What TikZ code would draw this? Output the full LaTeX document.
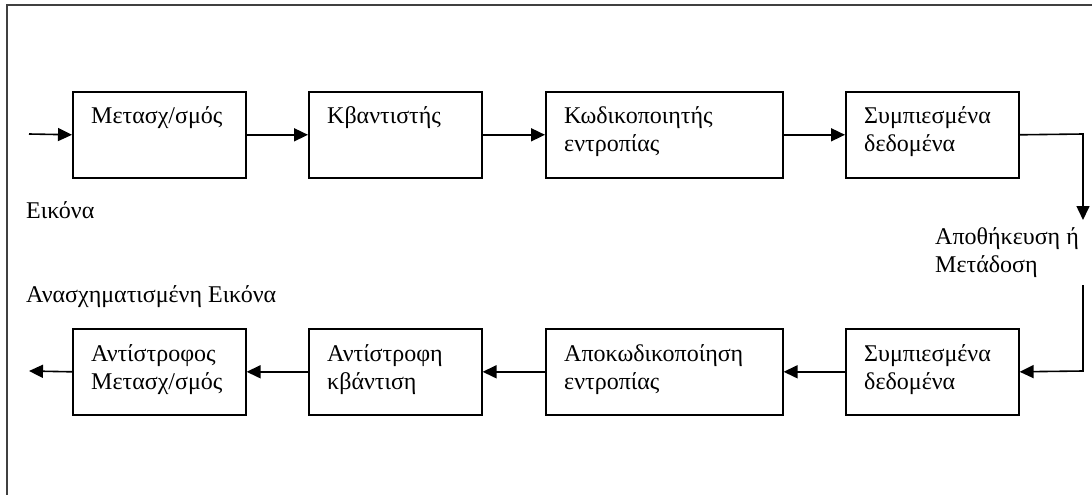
\documentclass[tikz,border=0pt]{standalone}
\usepackage{fontspec}
\setmainfont{Liberation Serif}
\usetikzlibrary{arrows.meta}
\begin{document}
\begin{tikzpicture}[x=1pt,y=-1pt,
  blockbox/.style={draw=black,line width=1.6pt,rectangle,inner sep=0pt,minimum height=86pt,anchor=north west},
  txt/.style={font=\fontsize{24}{28}\selectfont,inner sep=0pt,align=left,anchor=base west},
  conn/.style={line width=1.6pt,-{Triangle[length=14pt,width=13pt]}}]
\useasboundingbox (0,0) rectangle (1092,495);
\fill[white] (0,0) rectangle (1092,495);
\draw[line width=1.2pt,black!75] (7,500) -- (7,5) -- (1100,5);
% top row
\node[blockbox,minimum width=173pt] (b1) at (72,91) {};
\node[blockbox,minimum width=173pt] (b2) at (308,91) {};
\node[blockbox,minimum width=237pt] (b3) at (545,91) {};
\node[blockbox,minimum width=173pt] (b4) at (845,91) {};
% bottom row
\node[blockbox,minimum width=173pt] (c1) at (72,328) {};
\node[blockbox,minimum width=173pt] (c2) at (308,328) {};
\node[blockbox,minimum width=237pt] (c3) at (545,328) {};
\node[blockbox,minimum width=173pt] (c4) at (845,328) {};
% box texts (base anchor = baseline of last line)
\node[txt] (t1) at ([shift={(19,32)}]b1.north west) {Μετασχ/σμός};
\node[txt] (t2) at ([shift={(19,32)}]b2.north west) {Κβαντιστής};
\node[txt] (t3) at ([shift={(19,60)}]b3.north west) {Κωδικοποιητής\\εντροπίας};
\node[txt] (t4) at ([shift={(19,60)}]b4.north west) {Συμπιεσμένα\\δεδομένα};
\node[txt] (u1) at ([shift={(19,61)}]c1.north west) {Αντίστροφος\\Μετασχ/σμός};
\node[txt] (u2) at ([shift={(19,61)}]c2.north west) {Αντίστροφη\\κβάντιση};
\node[txt] (u3) at ([shift={(19,61)}]c3.north west) {Αποκωδικοποίηση\\εντροπίας};
\node[txt] (u4) at ([shift={(19,61)}]c4.north west) {Συμπιεσμένα\\δεδομένα};
% free labels
\node[txt] (lin) at (26,218) {Εικόνα};
\node[txt] (lst) at (935,272) {Αποθήκευση ή\\Μετάδοση};
\node[txt] (lout) at (26,302) {Ανασχηματισμένη Εικόνα};
% coordinates
\coordinate (in) at (29,134);
\coordinate (out) at (29,371);
\coordinate (r1) at (1083,134);
\coordinate (r2) at (1083,220);
\coordinate (r3) at (1083,285);
\coordinate (r4) at (1083,371);
% connectors
\draw[conn] (in) -- (b1.west);
\draw[conn] (b1.east) -- (b2.west);
\draw[conn] (b2.east) -- (b3.west);
\draw[conn] (b3.east) -- (b4.west);
\draw[conn] (b4.east) -- (r1) -- (r2);
\draw[conn] (r3) -- (r4) -- (c4.east);
\draw[conn] (c4.west) -- (c3.east);
\draw[conn] (c3.west) -- (c2.east);
\draw[conn] (c2.west) -- (c1.east);
\draw[conn] (c1.west) -- (out);
\end{tikzpicture}
\end{document}
